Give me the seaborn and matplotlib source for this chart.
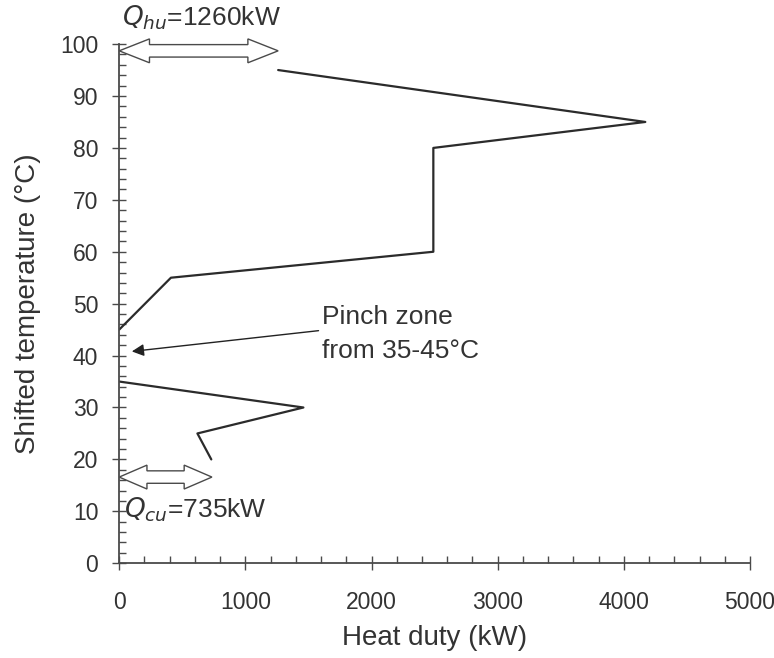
import numpy as np
import pandas as pd
import matplotlib
matplotlib.use("Agg")
import matplotlib.pyplot as plt
import seaborn as sns
from matplotlib.patches import Polygon
from matplotlib.ticker import MultipleLocator

# =====================================================
# DATA
# =====================================================

upper_duty = [1260, 4170, 2490, 2490, 410, 0]
upper_temp = [95, 85, 80, 60, 55, 45]

lower_duty = [0, 1460, 620, 730]
lower_temp = [35, 30, 25, 20]

q_hu = 1260
q_cu = 735

df = pd.concat([
    pd.DataFrame({"duty": upper_duty, "temp": upper_temp, "part": "above"}),
    pd.DataFrame({"duty": lower_duty, "temp": lower_temp, "part": "below"}),
], ignore_index=True)

# =====================================================
# STYLE
# =====================================================

sns.set_style("ticks")
plt.rcParams["font.family"] = ["Liberation Sans", "DejaVu Sans"]

grey = "#4a4a4a"
text_col = "#333333"

fig = plt.figure(figsize=(7.74, 6.58), dpi=100)
ax = fig.add_axes([0.154, 0.144, 0.815, 0.789])

sns.lineplot(
    data=df,
    x="duty",
    y="temp",
    units="part",
    estimator=None,
    sort=False,
    color="#2b2b2b",
    lw=1.6,
    ax=ax
)


def double_arrow(ax, x0, x1, y, shaft=2.4, head=4.6, head_len=240):
    # hollow double headed arrow, drawn in data units
    hs, hh = shaft / 2, head / 2
    pts = [
        (x0, y),
        (x0 + head_len, y + hh),
        (x0 + head_len, y + hs),
        (x1 - head_len, y + hs),
        (x1 - head_len, y + hh),
        (x1, y),
        (x1 - head_len, y - hh),
        (x1 - head_len, y - hs),
        (x0 + head_len, y - hs),
        (x0 + head_len, y - hh),
    ]
    ax.add_patch(Polygon(pts, closed=True, facecolor="white",
                         edgecolor=grey, lw=1.0, zorder=5, clip_on=False))


double_arrow(ax, 0, q_hu, 98.7)
double_arrow(ax, 0, q_cu, 16.6, head_len=220)

ax.text(20, 105.0, r"$Q_{\mathit{hu}}$=" + f"{q_hu}kW", fontsize=19,
        color=text_col, ha="left", va="center", clip_on=False)
ax.text(40, 10.3, r"$Q_{\mathit{cu}}$=" + f"{q_cu}kW", fontsize=19,
        color=text_col, ha="left", va="center")

ax.annotate(
    "",
    xy=(100, 40.8),
    xytext=(1580, 44.8),
    arrowprops=dict(arrowstyle="-|>", color="#222222", lw=1.0,
                    mutation_scale=18, shrinkA=0, shrinkB=0)
)
ax.text(1610, 49.8, "Pinch zone\nfrom 35-45°C", fontsize=19,
        color=text_col, ha="left", va="top", linespacing=1.55)

# =====================================================
# AXES
# =====================================================

ax.set_xlim(0, 5000)
ax.set_ylim(0, 100)
ax.xaxis.set_major_locator(MultipleLocator(1000))
ax.xaxis.set_minor_locator(MultipleLocator(200))
ax.yaxis.set_major_locator(MultipleLocator(10))
ax.yaxis.set_minor_locator(MultipleLocator(2))

ax.tick_params(which="major", direction="inout", length=10, width=1.0,
               color=grey, labelsize=16.5, labelcolor=text_col, pad=10)
ax.tick_params(axis="x", which="major", pad=15)
ax.tick_params(which="minor", direction="in", length=5, width=1.0,
               color=grey)

sns.despine(ax=ax)
for s in ["left", "bottom"]:
    ax.spines[s].set_color(grey)
    ax.spines[s].set_linewidth(1.3)

ax.set_xlabel("Heat duty (kW)", fontsize=20, color=text_col, labelpad=8)
ax.set_ylabel("Shifted temperature (°C)", fontsize=20, color=text_col,
              labelpad=14)

fig.savefig("out.png", dpi=100)
